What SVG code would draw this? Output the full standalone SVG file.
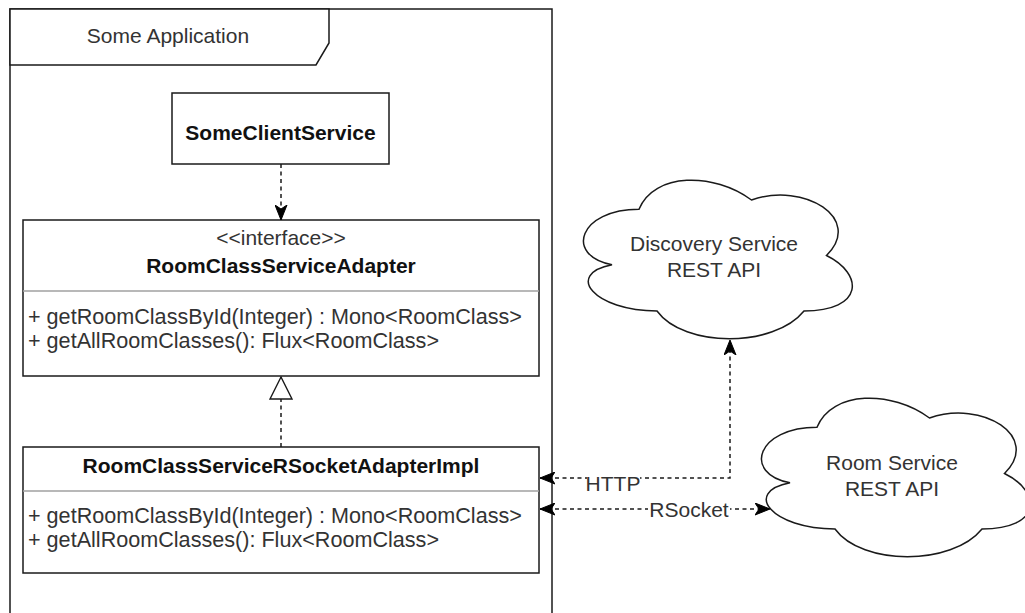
<svg xmlns="http://www.w3.org/2000/svg" width="1025" height="613" viewBox="0 0 1025 613">
  <style>
    .frame { fill: #ffffff; stroke: #1a1a1a; stroke-width: 1.5; }
    .box { fill: #ffffff; stroke: #1a1a1a; stroke-width: 1.5; }
    .divider { stroke: #a0a0a0; stroke-width: 1.3; fill: none; }
    .cloud { fill: #ffffff; stroke: #1a1a1a; stroke-width: 1.5; }
    .txt { font-family: "Liberation Sans", Arial, sans-serif; font-size: 21px; fill: #333333; }
    .member { font-family: "Liberation Sans", Arial, sans-serif; font-size: 21.6px; fill: #333333; }
    .title { font-family: "Liberation Sans", Arial, sans-serif; font-size: 21px; font-weight: bold; fill: #111111; }
    .mid { text-anchor: middle; }
    .edge { fill: none; stroke: #1a1a1a; stroke-width: 1.5; stroke-dasharray: 4 3.5; }
    .lblbg { fill: #ffffff; }
  </style>
  <defs>
    <marker id="arrow" viewBox="0 0 16 13" refX="15" refY="6.5" markerWidth="16" markerHeight="13" markerUnits="userSpaceOnUse" orient="auto-start-reverse">
      <path d="M15,6.5 L0,0.5 L4,6.5 L0,12.5 Z" fill="#000000" stroke="#000000" stroke-width="1"/>
    </marker>
    <marker id="realize" viewBox="0 0 24 24" refX="23" refY="12" markerWidth="24" markerHeight="24" markerUnits="userSpaceOnUse" orient="auto">
      <path d="M23,12 L1,1 L1,23 Z" fill="#ffffff" stroke="#1a1a1a" stroke-width="1.4"/>
    </marker>
  </defs>

  <!-- package frame with name tab -->
  <g id="frame">
    <rect class="frame" x="10" y="9" width="542" height="640"/>
    <path class="frame" d="M10,9 L329,9 L329,43 L316,65 L10,65 Z"/>
    <text class="txt mid" x="168" y="43">Some Application</text>
  </g>

  <g id="some-client-service">
    <rect class="box" x="172" y="93" width="217" height="71"/>
    <text class="title mid" x="280.5" y="140">SomeClientService</text>
  </g>

  <g id="room-class-service-adapter">
    <rect class="box" x="23" y="220" width="516" height="156"/>
    <line class="divider" x1="23" y1="291" x2="539" y2="291"/>
    <text class="txt mid" x="281" y="245">&lt;&lt;interface&gt;&gt;</text>
    <text class="title mid" x="281" y="273">RoomClassServiceAdapter</text>
    <text class="member" x="28" y="324">+ getRoomClassById(Integer) : Mono&lt;RoomClass&gt;</text>
    <text class="member" x="28" y="348">+ getAllRoomClasses(): Flux&lt;RoomClass&gt;</text>
  </g>

  <g id="room-class-service-rsocket-adapter-impl">
    <rect class="box" x="23" y="447" width="516" height="126"/>
    <line class="divider" x1="23" y1="491" x2="539" y2="491"/>
    <text class="title mid" x="281" y="473">RoomClassServiceRSocketAdapterImpl</text>
    <text class="member" x="28" y="523">+ getRoomClassById(Integer) : Mono&lt;RoomClass&gt;</text>
    <text class="member" x="28" y="547">+ getAllRoomClasses(): Flux&lt;RoomClass&gt;</text>
  </g>

  <g id="discovery-service">
    <path class="cloud" d="M639,209.25 C579,209.25 564,255.5 612,264.75 C564,274 594,311 657,311 C684,348 774,348 804,311 C864,311 864,274 826.5,255.5 C864,218.5 804,181.5 751.5,200 C714,172.25 654,172.25 639,209.25 Z"/>
    <text class="txt mid" x="714" y="251">Discovery Service</text>
    <text class="txt mid" x="714" y="277">REST API</text>
  </g>

  <g id="room-service">
    <path class="cloud" d="M817,427.25 C757,427.25 742,473.5 790,482.75 C742,492 772,529 835,529 C862,566 952,566 982,529 C1042,529 1042,492 1004.5,473.5 C1042,436.5 982,399.5 929.5,418 C892,390.25 832,390.25 817,427.25 Z"/>
    <text class="txt mid" x="892" y="470">Room Service</text>
    <text class="txt mid" x="892" y="496">REST API</text>
  </g>

  <g id="connectors">
    <!-- client depends on the adapter interface -->
    <line class="edge" x1="281" y1="164" x2="281" y2="220" marker-end="url(#arrow)"/>
    <!-- implementation realizes the interface -->
    <line class="edge" x1="281" y1="447" x2="281" y2="377" marker-end="url(#realize)"/>
    <!-- HTTP lookup against the discovery service -->
    <path class="edge" d="M540,478 L730,478 L730,340" marker-start="url(#arrow)" marker-end="url(#arrow)"/>
    <rect class="lblbg" x="587" y="472" width="53" height="20"/>
    <text class="txt mid" x="613" y="491">HTTP</text>
    <!-- RSocket channel to the room service -->
    <line class="edge" x1="540" y1="509" x2="770" y2="509" marker-start="url(#arrow)" marker-end="url(#arrow)"/>
    <rect class="lblbg" x="648" y="499" width="82" height="20"/>
    <text class="txt mid" x="689" y="517">RSocket</text>
  </g>
</svg>
